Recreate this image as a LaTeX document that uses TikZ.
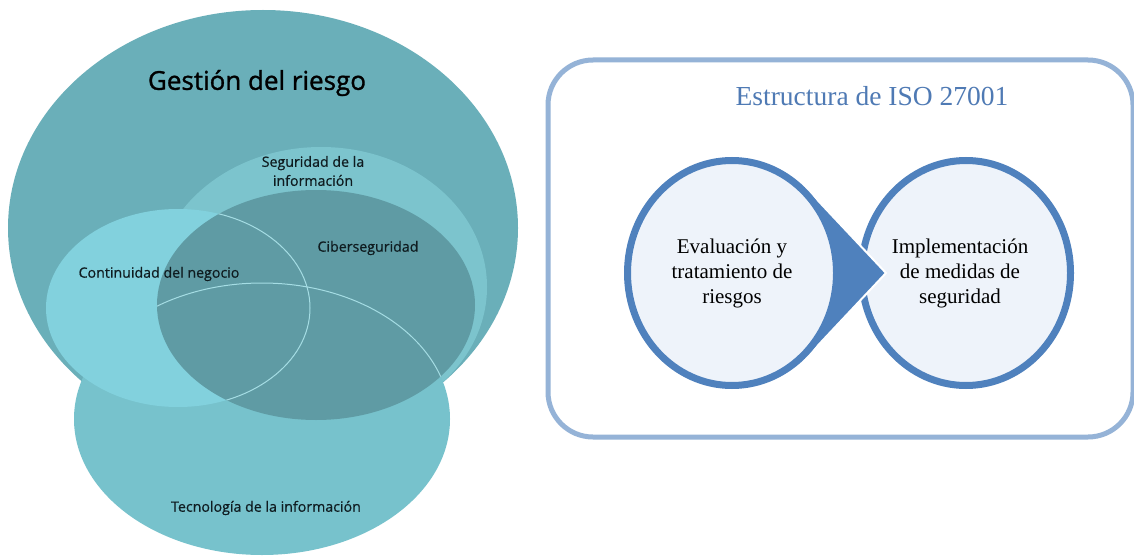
\documentclass[tikz,border=0pt]{standalone}
\usepackage{fontspec}
\setmainfont{Liberation Serif}
\newfontfamily\osans[FakeBold=0.6]{Open Sans}
\newfontfamily\osanst[FakeBold=1.2]{Open Sans}
\usetikzlibrary{shapes.geometric}
\definecolor{bigc}{HTML}{6AAFB9}
\definecolor{segc}{HTML}{7CC4CD}
\definecolor{tic}{HTML}{77C2CC}
\definecolor{contc}{HTML}{82D1DD}
\definecolor{cybc}{HTML}{5F9BA4}
\definecolor{thinc}{HTML}{A5DDE4}
\definecolor{framec}{HTML}{95B3D7}
\definecolor{titlec}{HTML}{4F7AB4}
\definecolor{ringc}{HTML}{4F81BD}
\definecolor{innerc}{HTML}{EEF3FA}
\definecolor{labc}{HTML}{0F1C20}
\begin{document}
\begin{tikzpicture}[x=1pt,y=1pt,
  blob/.style={ellipse, draw=none, inner sep=0pt, outer sep=0pt},
  lbl/.style={font=\osans\fontsize{14.2}{19}\selectfont, text=labc, align=center, inner sep=0pt},
  ring/.style={ellipse, draw=ringc, line width=7pt, fill=innerc, inner sep=0pt, outer sep=0pt,
    minimum width=209pt, minimum height=225pt, align=center,
    font=\fontsize{21}{25}\selectfont}]
\useasboundingbox (0,0) rectangle (1134,558);
\fill[white] (0,0) rectangle (1134,558);

% ---- left: Venn of ellipses ----
\node[blob, fill=bigc, minimum width=510pt, minimum height=436pt] (big) at (263,330) {};
\node[blob, fill=segc, minimum width=332pt, minimum height=280pt] (seg) at (321,271) {};
\node[blob, fill=tic, minimum width=376pt, minimum height=272pt] (ti) at (262,139) {};
\node[blob, fill=contc, minimum width=264pt, minimum height=198pt] (cont) at (178,250) {};
\node[blob, fill=cybc, minimum width=318pt, minimum height=230pt] (cyb) at (316,253) {};
\begin{scope}
  \clip (cyb.center) ellipse [x radius=159pt, y radius=115pt];
  \draw[thinc, line width=1pt] (cont.center) ellipse [x radius=132pt, y radius=99pt];
  \draw[thinc, line width=1pt] (ti.center) ellipse [x radius=188pt, y radius=136pt];
\end{scope}

\node[lbl, font=\osanst\fontsize{26}{30}\selectfont, text=black] (tgest) at (257,475) {Gestión del riesgo};
\node[lbl] (tseg) at (313,387) {Seguridad de la\\información};
\node[lbl] (tcyb) at (368,310) {Ciberseguridad};
\node[lbl] (tcont) at (159,284) {Continuidad del negocio};
\node[lbl] (tti) at (266,50) {Tecnología de la información};

% ---- right: ISO 27001 structure ----
\node[draw=framec, line width=5pt, rounded corners=45pt, minimum width=585pt, minimum height=377pt,
  inner sep=0pt] (frame) at (840.5,309.5) {};
\node[text=titlec, font=\fontsize{27.5}{30}\selectfont, inner sep=0pt] (title) at (872,462) {Estructura de ISO 27001};

\node[ring] (R) at (966,285) {};
\node[font=\fontsize{21}{25}\selectfont, align=center, inner sep=0pt] (rtext) at (960,285) {Implementación\\de medidas de\\seguridad};
\coordinate (tip) at (886,285);
\coordinate (ta) at (808,368);
\coordinate (tb) at (808,202);
\fill[ringc] (ta) -- (tip) -- (tb) -- cycle;
\draw[white, line width=2pt, line join=miter] (ta) -- (tip) -- (tb);
\node[ring] (L) at (732,285) {Evaluación y\\tratamiento de\\riesgos};
\end{tikzpicture}
\end{document}
